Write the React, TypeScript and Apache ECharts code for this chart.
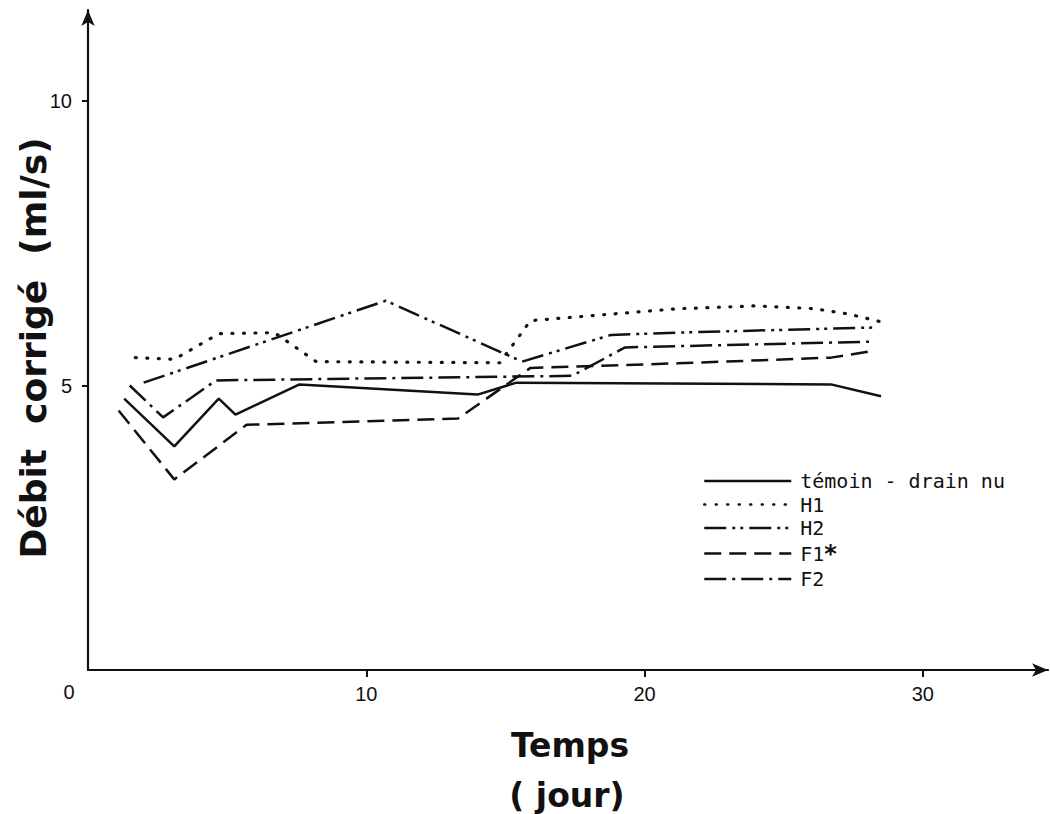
import React, { useEffect, useRef } from "react";
import * as echarts from "echarts";

// Data (x = day, y = corrected flow ml/s)
const temoinX = [1.3, 3.1, 4.7, 5.3, 7.6, 14.0, 15.4, 26.7, 28.5];
const temoinY = [4.77, 3.93, 4.77, 4.49, 5.02, 4.84, 5.05, 5.02, 4.81];

const h1X = [1.7, 3.1, 4.7, 6.7, 8.2, 14.8, 15.9, 21.2, 24.0, 26.1, 27.3, 28.5];
const h1Y = [5.49, 5.46, 5.91, 5.93, 5.42, 5.4, 6.14, 6.35, 6.4, 6.35, 6.26, 6.12];

const h2X = [2.0, 10.7, 15.6, 18.8, 21.2, 28.3];
const h2Y = [5.05, 6.49, 5.42, 5.89, 5.93, 6.02];

const f1X = [1.1, 3.1, 5.7, 13.3, 15.9, 21.2, 26.7, 28.1];
const f1Y = [4.56, 3.35, 4.31, 4.42, 5.31, 5.39, 5.49, 5.6];

const f2X = [1.5, 2.7, 4.6, 17.4, 19.3, 28.1];
const f2Y = [5.0, 4.44, 5.09, 5.17, 5.67, 5.77];

const seriesNames = ["témoin - drain nu", "H1", "H2", "F1", "F2"];
const xTicks = [10, 20, 30];
const yTicks = [5, 10];

const zip = (xs: number[], ys: number[]) => xs.map((x, i) => [x, ys[i]]);

const INK = "#111";

export default function App() {
  const ref = useRef<HTMLDivElement>(null);

  useEffect(() => {
    if (!ref.current) return;
    const chart = echarts.init(ref.current, undefined, { renderer: "svg" });

    const mk = (name: string, data: number[][], lineStyle: any) => ({
      name,
      type: "line",
      data,
      symbol: "none",
      lineStyle: { color: INK, width: 2.5, ...lineStyle },
      itemStyle: { color: INK },
    });

    chart.setOption({
      animation: false,
      backgroundColor: "#fff",
      grid: { left: 88, top: 10, width: 960, height: 660, containLabel: false },
      xAxis: {
        type: "value",
        min: 0,
        max: 34.5,
        axisLine: {
          show: true,
          symbol: ["none", "arrow"],
          symbolSize: [10, 16],
          lineStyle: { color: INK, width: 2.2 },
        },
        axisTick: { show: true, customValues: xTicks, length: 7, lineStyle: { color: INK, width: 2 } },
        axisLabel: {
          customValues: xTicks,
          fontSize: 20,
          fontFamily: "Liberation Sans",
          color: INK,
          margin: 14,
        },
        splitLine: { show: false },
      },
      yAxis: {
        type: "value",
        min: 0,
        max: 11.6,
        axisLine: {
          show: true,
          symbol: ["none", "arrow"],
          symbolSize: [10, 16],
          lineStyle: { color: INK, width: 2.2 },
        },
        axisTick: { show: true, customValues: yTicks, length: 6, lineStyle: { color: INK, width: 2 } },
        axisLabel: {
          customValues: yTicks,
          fontSize: 20,
          fontFamily: "Liberation Sans",
          color: INK,
          margin: 16,
        },
        splitLine: { show: false },
      },
      legend: {
        orient: "vertical",
        left: 703,
        top: 471,
        padding: 0,
        itemWidth: 87,
        itemHeight: 14,
        itemGap: 3.5,
        data: seriesNames,
        lineStyle: { width: 2.5 },
        itemStyle: { opacity: 0 },
        textStyle: {
          fontFamily: "DejaVu Sans Mono",
          fontSize: 20,
          lineHeight: 20,
          color: INK,
          padding: [0, 0, 0, 4],
          rich: {
            s: { fontFamily: "DejaVu Sans", fontWeight: "bold", fontSize: 24, lineHeight: 20, color: INK },
          },
        },
        formatter: (n: string) => (n === "F1" ? "F1{s|*}" : n),
      },
      series: [
        mk(seriesNames[0], zip(temoinX, temoinY), { type: "solid" }),
        mk(seriesNames[1], zip(h1X, h1Y), { type: [1, 10.5], cap: "round", width: 3.2 }),
        mk(seriesNames[2], zip(h2X, h2Y), { type: [22, 6, 3, 5, 3, 6] }),
        mk(seriesNames[3], zip(f1X, f1Y), { type: [17, 8] }),
        mk(seriesNames[4], zip(f2X, f2Y), { type: [22, 6, 3, 6] }),
      ],
      graphic: [
        {
          type: "text",
          x: 69,
          y: 692,
          style: { text: "0", fontSize: 20, fontFamily: "Liberation Sans", fill: INK, align: "center", verticalAlign: "middle" },
        },
        {
          type: "text",
          x: 570,
          y: 745,
          style: { text: "Temps", fontSize: 33, fontWeight: "bold", fontFamily: "DejaVu Sans", fill: INK, align: "center", verticalAlign: "middle" },
        },
        {
          type: "text",
          x: 567,
          y: 795,
          style: { text: "( jour)", fontSize: 33, fontWeight: "bold", fontFamily: "DejaVu Sans", fill: INK, align: "center", verticalAlign: "middle" },
        },
        {
          type: "text",
          x: 33,
          y: 348,
          rotation: Math.PI / 2,
          style: {
            text: "Débit  corrigé  (ml/s)",
            fontSize: 36,
            fontWeight: "bold",
            fontFamily: "DejaVu Sans",
            fill: INK,
            align: "center",
            verticalAlign: "middle",
          },
        },
      ],
    });

    return () => chart.dispose();
  }, []);

  return (
    <div
      ref={ref}
      style={{ position: "fixed", left: 0, top: 0, width: 1050, height: 814, background: "#fff" }}
    />
  );
}
